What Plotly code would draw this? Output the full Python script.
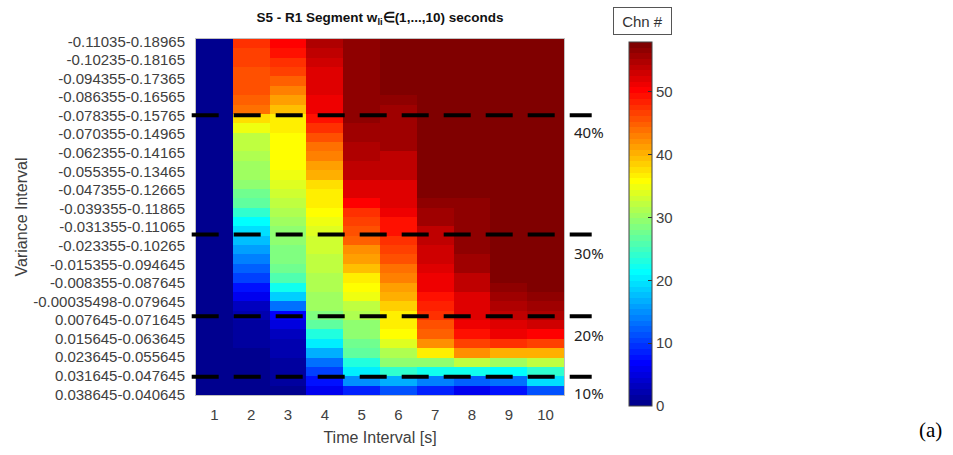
import numpy as np
import plotly.graph_objects as go

# ---- data -----------------------------------------------------------------
time_interval = [1, 2, 3, 4, 5, 6, 7, 8, 9, 10]

variance_interval = [
    "-0.11035-0.18965", "-0.10235-0.18165", "-0.094355-0.17365", "-0.086355-0.16565",
    "-0.078355-0.15765", "-0.070355-0.14965", "-0.062355-0.14165", "-0.055355-0.13465",
    "-0.047355-0.12665", "-0.039355-0.11865", "-0.031355-0.11065", "-0.023355-0.10265",
    "-0.015355-0.094645", "-0.008355-0.087645", "-0.00035498-0.079645", "0.007645-0.071645",
    "0.015645-0.063645", "0.023645-0.055645", "0.031645-0.047645", "0.038645-0.040645",
]

# channel counts per variance step (top to bottom), one list per time interval
chn_t1 = [0, 0, 0, 0, 0, 0, 0, 0, 0, 0, 0, 0, 0, 0, 0, 0, 0, 0, 0,
          0, 0, 0, 0, 0, 0, 0, 0, 0, 0, 0, 0, 0, 0, 0, 0, 0, 0, 0]
chn_t2 = [48, 47, 46.5, 46, 46, 46, 45, 44, 38, 35, 32, 32, 31, 30.5, 30, 29, 28, 27, 24,
          21.5, 19.5, 18, 16, 14, 12.5, 10.5, 8, 5.5, 3, 2, 1.5, 1, 1, 0.5, 0.5, 0, 0, 0]
chn_t3 = [50, 49, 48, 46.5, 44.5, 43, 41.5, 39.5, 37, 36.5, 36, 36, 36, 35.5, 35, 34, 33, 32, 31,
          30.5, 29.5, 29, 28.5, 28.5, 27.5, 26, 22, 19, 13, 7, 5, 3.5, 2.5, 2, 1.5, 1, 1, 0.5]
chn_t4 = [54.5, 54, 53, 52.5, 52, 52, 51.5, 51, 49.5, 48, 46, 44, 43, 41.5, 40, 38, 37, 36.5, 36,
          34.5, 34, 33.5, 33, 32.5, 32, 31.5, 31, 30.5, 30, 28.5, 26.5, 23.5, 20, 17, 13, 10, 8, 5.5]
chn_t5 = [57, 57, 57, 57, 56.5, 56.5, 56.5, 56.5, 56.5, 55.5, 55.5, 55, 55, 54, 53.5, 52.5, 52, 50, 48,
          47, 45.5, 44.5, 42.5, 41.5, 39, 36.5, 35.5, 34.5, 32.5, 31, 29.5, 29.5, 27.5, 26.5, 23.5, 20, 15, 9]
chn_t6 = [57.5, 57.5, 57.5, 57.5, 57.5, 57.5, 57, 56, 56, 56, 55.5, 55.5, 54, 53.5, 53.5, 52.5, 52.5, 52, 51,
          49.5, 49, 48, 47, 45.5, 44, 43, 41.5, 40, 38.5, 37, 36.5, 36, 34, 31, 29, 24, 17, 11]
chn_t7 = [57.5, 57.5, 57.5, 57.5, 57.5, 57.5, 57.5, 57.5, 57.5, 57.5, 57.5, 57.5, 57.5, 57.5, 57.5, 57.5, 57.5, 57, 56,
          55.5, 54, 54, 53, 53, 52, 51, 51, 49.5, 48.5, 47.5, 46, 44.5, 42, 37, 29, 22, 14, 9]
chn_t8 = [57.5, 57.5, 57.5, 57.5, 57.5, 57.5, 57.5, 57.5, 57.5, 57.5, 57.5, 57.5, 57.5, 57.5, 57.5, 57.5, 57.5, 57, 57,
          57, 57, 57, 56.5, 55.5, 55.5, 54, 53.5, 52.5, 52.5, 52, 51.5, 49.5, 46.5, 42, 32, 22, 12, 6]
chn_t9 = [57.5, 57.5, 57.5, 57.5, 57.5, 57.5, 57.5, 57.5, 57.5, 57.5, 57.5, 57.5, 57.5, 57.5, 57.5, 57.5, 57.5, 57.5, 57.5,
          57.5, 57.5, 57.5, 57.5, 57.5, 57.5, 57.5, 56.5, 55.5, 55, 54, 52.5, 51.5, 48, 40, 30, 21, 13, 8]
chn_t10 = [57.5, 57.5, 57.5, 57.5, 57.5, 57.5, 57.5, 57.5, 57.5, 57.5, 57.5, 57.5, 57.5, 57.5, 57.5, 57.5, 57.5, 57.5, 57.5,
           57.5, 57.5, 57.5, 57.5, 57.5, 57.5, 57.5, 57.5, 57, 56, 54.5, 53, 50.5, 46.5, 40, 32, 24, 19.5, 11]

colorbar_ticks = [0, 10, 20, 30, 40, 50]
band_labels = ["40%", "30%", "20%", "10%"]

# ---- build ----------------------------------------------------------------
columns = [chn_t1, chn_t2, chn_t3, chn_t4, chn_t5, chn_t6, chn_t7, chn_t8, chn_t9, chn_t10]
z = np.array(columns).T              # rows = variance steps, cols = time intervals
n_rows = z.shape[0]
rows = list(range(n_rows))

# MATLAB-style jet(64), stepped
def jet64():
    scale = []
    for j in range(64):
        r = np.clip(min((j - 23) / 16, (71 - j) / 16), 0, 1)
        g = np.clip(min((j - 7) / 16, (55 - j) / 16), 0, 1)
        b = np.clip(min((j + 9) / 16, (39 - j) / 16), 0, 1)
        c = f"rgb({round(r * 255)},{round(g * 255)},{round(b * 255)})"
        scale.append([j / 64, c])
        scale.append([(j + 1) / 64, c])
    return scale

# plot area in pixels
W, H = 953, 455
L, R, T, B = 196, 389, 39, 53
pw, ph = W - L - R, H - T - B

def px_x(x):
    return (x - L) / pw

def px_y(y):
    return (H - B - y) / ph

tick_pos = [-0.5 + n_rows * (2.4 + 18.94 * j) / ph for j in range(len(variance_interval))]

fig = go.Figure(go.Heatmap(
    z=z, x=time_interval, y=rows,
    colorscale=jet64(), zmin=0, zmax=58,
    colorbar=dict(
        thickness=23, thicknessmode="pixels",
        len=371 / ph, lenmode="fraction",
        x=px_x(629), xanchor="left", y=px_y(413), yanchor="bottom",
        xpad=0, ypad=0, outlinewidth=1, outlinecolor="#444",
        tickvals=colorbar_ticks, ticks="inside", ticklen=4, tickcolor="#333",
        tickfont=dict(size=15, color="#404040"),
    ),
))

fig.update_layout(
    width=W, height=H,
    margin=dict(l=L, r=R, t=T, b=B),
    paper_bgcolor="white", plot_bgcolor="white",
    font=dict(family="Liberation Sans, Arial, sans-serif", size=15, color="#333"),
    title=dict(
        text="<b>S5 - R1 Segment w<sub>li</sub>∈(1,...,10) seconds</b>",
        font=dict(size=13.5, color="#111"),
        x=0.5, xref="paper", xanchor="center",
        y=1 - 17 / H, yref="container", yanchor="middle",
    ),
    xaxis=dict(
        range=[0.5, 10.5], tickvals=time_interval, ticks="",
        showgrid=False, zeroline=False,
        showline=True, mirror=True, linecolor="#c0c0c0", linewidth=1,
        ticklabelstandoff=6, tickfont=dict(size=15, color="#404040"),
        title=dict(text="Time Interval [s]", font=dict(size=16, color="#404040"), standoff=9),
    ),
    yaxis=dict(
        range=[n_rows - 0.5, -0.5], tickvals=tick_pos, ticktext=variance_interval, ticks="",
        showgrid=False, zeroline=False,
        showline=True, mirror=True, linecolor="#c0c0c0", linewidth=1,
        ticklabelstandoff=7, tickfont=dict(size=15, color="#404040"),
        title=dict(text="Variance Interval", font=dict(size=16, color="#404040"), standoff=1),
    ),
)

# threshold lines and their labels
for ypix in [116.7, 238.3, 321.7, 383.3]:
    fig.add_shape(type="line", xref="paper", yref="paper",
                  x0=px_x(191.7), x1=px_x(591.7), y0=px_y(ypix), y1=px_y(ypix),
                  line=dict(color="black", width=4, dash="27px,15px"))

for lbl, ypix in zip(band_labels, [134, 257, 341, 400]):
    fig.add_annotation(text=lbl, xref="paper", yref="paper",
                       x=px_x(572), y=px_y(ypix), xanchor="left", yanchor="middle",
                       showarrow=False, font=dict(family="Noto Sans", size=15, color="#222"))

# colorbar caption box
fig.add_annotation(text="Chn #", xref="paper", yref="paper",
                   x=px_x(642), y=px_y(21), xanchor="center", yanchor="middle",
                   showarrow=False, width=55, height=24,
                   bordercolor="#555", borderwidth=1, borderpad=1, bgcolor="white",
                   font=dict(size=15, color="#333"))

# panel tag
fig.add_annotation(text="(a)", xref="paper", yref="paper",
                   x=px_x(930), y=px_y(438), xanchor="center", yanchor="middle",
                   showarrow=False, font=dict(family="Liberation Serif, Times New Roman, serif", size=21, color="black"))

fig.write_html("out.html")
